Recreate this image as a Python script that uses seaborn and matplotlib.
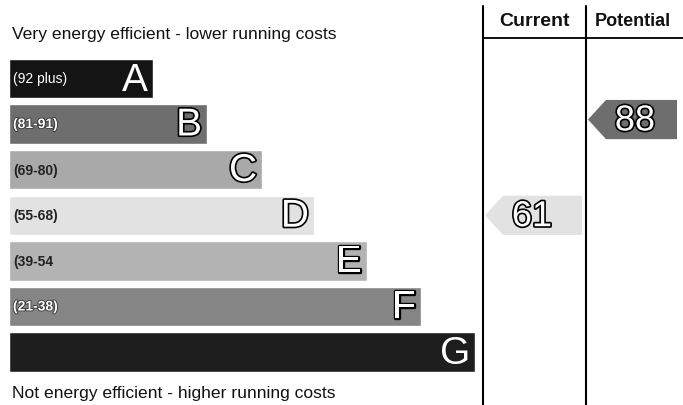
import seaborn as sns
import matplotlib.pyplot as plt
import matplotlib.patheffects as pe
from matplotlib.lines import Line2D
import pandas as pd

# EPC rating bands
bands = ["A", "B", "C", "D", "E", "F", "G"]
ranges = ["(92 plus)", "(81-91)", "(69-80)", "(55-68)", "(39-54", "(21-38)", ""]
lower_bounds = [92, 81, 69, 55, 39, 21, 1]
bar_lengths = [144, 198, 253, 305, 358, 412, 466]
band_colors = ["#141414", "#6e6e6e", "#a9a9a9", "#e2e2e2", "#b3b3b3", "#858585", "#1e1e1e"]
range_colors = ["white", "white", "#222222", "#222222", "#222222", "white", "white"]
current_rating = 61
potential_rating = 88

W, H = 683, 406
sns.set_theme(style="white")
plt.rcParams["font.family"] = ["Liberation Sans", "DejaVu Sans"]

fig = plt.figure(figsize=(W / 100, H / 100), dpi=100)
ax = fig.add_axes([0, 0, 1, 1])

df = pd.DataFrame({"band": bands, "length": bar_lengths})
sns.barplot(data=df, x="length", y="band", hue="band", palette=band_colors,
            orient="h", width=0.86, legend=False, saturation=1, ax=ax)

# pixel layout: bar i centred at y = 79.5 + 45.6 * i, bars start at x = 9
y0, step = 79.5, 45.6
ax.set_xlim(-9, W - 9)
ax.set_ylim((H - y0) / step, -y0 / step)
ax.set_axis_off()

stroke = [pe.withStroke(linewidth=2.4, foreground="black")]
for i, (b, r, L) in enumerate(zip(bands, ranges, bar_lengths)):
    ax.text(4, i, r, ha="left", va="center", fontsize=10,
            fontweight="normal" if b == "A" else "bold", color=range_colors[i],
            path_effects=[pe.withStroke(linewidth=1.2, foreground="#333333")]
            if range_colors[i] == "white" and b != "A" else None)
    eff = stroke if b not in ("A", "G") else None
    ax.text(L - 5, i + 0.03, b, ha="right", va="center", fontsize=28,
            color="white", path_effects=eff)


def band_index(value):
    for i, lb in enumerate(lower_bounds):
        if value >= lb:
            return i
    return len(bands) - 1


def rating_arrow(value, x_left, x_right, dy=0.0):
    i = band_index(value)
    h = 0.43
    yc = i + dy
    xs = [x_left, x_left + 18, x_right, x_right, x_left + 18]
    ys = [yc, yc - h, yc - h, yc + h, yc + h]
    ax.fill(xs, ys, color=band_colors[i], lw=0)
    ax.text(x_left + 47, yc + 0.03, str(value), ha="center",
            va="center", fontsize=26, color="white",
            path_effects=[pe.withStroke(linewidth=2.4, foreground="black")])


rating_arrow(current_rating, 485 - 9, 582 - 9)
rating_arrow(potential_rating, 588 - 9, 677 - 9, dy=-0.1)


def fx(x):
    return x / W


def fy(y):
    return 1 - y / H


fig.text(fx(12), fy(34), "Very energy efficient - lower running costs",
         ha="left", va="center", fontsize=12.6, color="#111111")
fig.text(fx(12), fy(394), "Not energy efficient - higher running costs",
         ha="left", va="center", fontsize=12.6, color="#111111")
fig.text(fx(535), fy(21), "Current", ha="center", va="center",
         fontsize=14, fontweight="bold", color="#111111")
fig.text(fx(633), fy(21), "Potential", ha="center", va="center",
         fontsize=13, fontweight="bold", color="#111111")

for x in (483, 586):
    fig.add_artist(Line2D([fx(x), fx(x)], [fy(7), fy(H)], color="black", lw=1.5))
fig.add_artist(Line2D([fx(483), fx(W)], [fy(39), fy(39)], color="black", lw=1.3))

fig.savefig("out.png", dpi=100)
